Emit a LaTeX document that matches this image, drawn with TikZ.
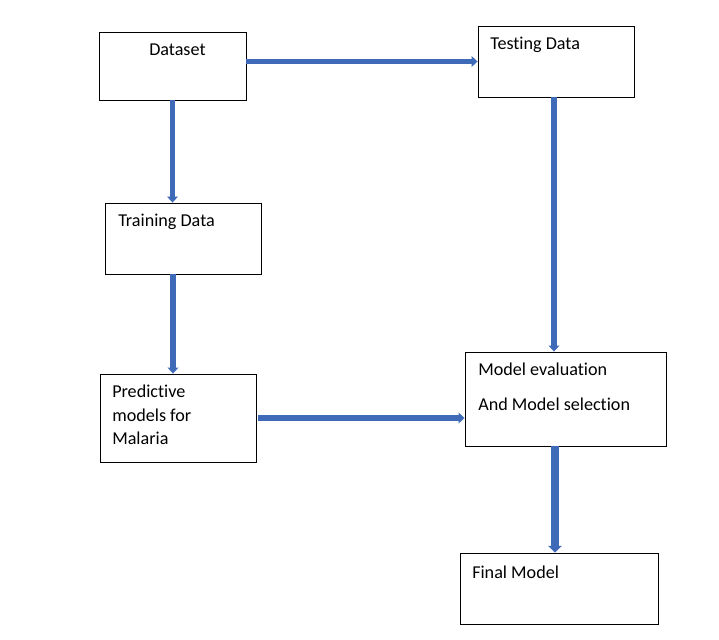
\documentclass[tikz,border=0pt]{standalone}
\usepackage{fontspec}
\setmainfont[Ligatures={NoCommon}]{Carlito}
\usetikzlibrary{arrows.meta}

\definecolor{flowblue}{HTML}{3F6AB8}

\begin{document}
\begin{tikzpicture}[x=0.75pt, y=-0.75pt,
    box/.style={draw, line width=0.65pt, inner sep=0pt},
    txt/.style={anchor=base west, inner sep=0pt, font=\fontsize{13.6}{16}\selectfont},
    flow/.style={draw=flowblue, line width=3.8pt, -{Triangle[width=8pt, length=4.5pt]}}]
    \useasboundingbox (0, 0) rectangle (719, 640);

    % Boxes
    \node[box, minimum width=110.25pt, minimum height=51pt] (dataset) at (172.5, 66) {};
    \node[box, minimum width=117pt, minimum height=53.25pt] (testing) at (556, 61.5) {};
    \node[box, minimum width=117pt, minimum height=53.25pt] (training) at (183, 238.5) {};
    \node[box, minimum width=117pt, minimum height=66pt] (predictive) at (178, 418) {};
    \node[box, minimum width=150.75pt, minimum height=70.5pt] (evaluation) at (565.5, 399) {};
    \node[box, minimum width=148.5pt, minimum height=53.25pt] (final) at (559, 588.5) {};

    % Labels
    \node[txt] (datasetText) at (149, 55) {Dataset};
    \node[txt] (testingText) at (490, 49) {Testing Data};
    \node[txt] (trainingText) at (118, 226) {Training Data};
    \node[txt] (predictiveA) at (112, 397) {Predictive};
    \node[txt] (predictiveB) at (112, 421) {models for};
    \node[txt] (predictiveC) at (112, 444) {Malaria};
    \node[txt] (evaluationA) at (478, 375) {Model evaluation};
    \node[txt] (evaluationB) at (478, 410) {And Model selection};
    \node[txt] (finalText) at (472, 578) {Final Model};

    % Arrows
    \draw[flow] (dataset.east |- testing.west) -- (testing.west);
    \draw[flow] (dataset.south) -- (dataset.south |- training.north);
    \draw[flow] ([xshift=-7.5pt]training.south) -- ([xshift=-7.5pt]training.south |- predictive.north);
    \draw[flow] ([xshift=1.5pt]predictive.east) -- (predictive.east -| evaluation.west);
    \draw[flow] ([xshift=-1.5pt]testing.south) -- ([xshift=-1.5pt]testing.south |- evaluation.north);
    \draw[flow, line width=5.5pt, -{Triangle[width=10pt, length=5pt]}] ([xshift=-3pt]final.north |- evaluation.south) -- ([xshift=-3pt]final.north);
\end{tikzpicture}
\end{document}
